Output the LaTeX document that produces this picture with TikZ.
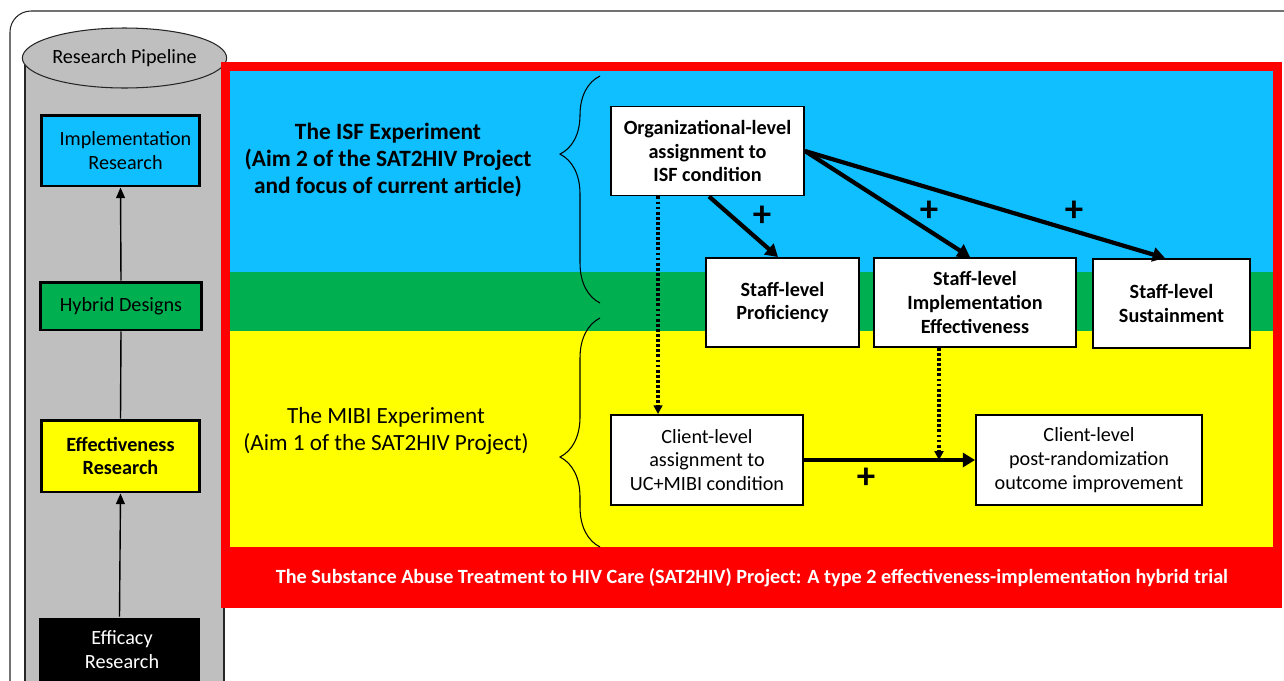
\documentclass[tikz,border=0pt]{standalone}
\usepackage{fontspec}
\setmainfont{Carlito}
\usepackage{xcolor}
\usetikzlibrary{shapes.geometric}
\usetikzlibrary{arrows.meta}
\usetikzlibrary{decorations.pathreplacing}

\definecolor{pipegray}{HTML}{BFBFBF}
\definecolor{isfblue}{HTML}{0FBFFF}
\definecolor{hybgreen}{HTML}{00B050}
\definecolor{mibiyellow}{HTML}{FFFF00}
\definecolor{projred}{HTML}{FF0000}

\tikzset{
  pipebox/.style={draw, line width=1.7pt, align=center, inner sep=0pt,
    font=\fontsize{11.5}{13.6}\selectfont},
  stage/.style={draw, fill=white, line width=1.1pt, align=center, inner sep=0pt,
    font=\fontsize{11.5}{13.6}\selectfont},
  effect/.style={line width=2.4pt, -{Triangle[length=7pt,width=8pt]}},
  moderate/.style={line width=1.8pt, dash pattern=on 1.6pt off 1.3pt,
    -{Triangle[length=5pt,width=5pt]}},
  plus/.style={font=\fontsize{21}{21}\selectfont\bfseries},
  curly/.style={decorate, line width=0.6pt}
}

\begin{document}
\begin{tikzpicture}[x=0.02cm, y=-0.02cm]
  \useasboundingbox (0,0) rectangle (1284,680);
  \clip (0,0) rectangle (1284,680);
  % frame
  \draw[black!85, line width=0.6pt, rounded corners=12pt] (10,11) rectangle (1320,720);

  % pipeline cylinder
  \fill[pipegray] (25,58) rectangle (224,700);
  \draw[black!85, line width=0.6pt] (25,58) -- (25,700) (224,58) -- (224,700);
  \node[draw=black!85, line width=0.6pt, fill=pipegray, ellipse, minimum width=3.98cm, minimum height=1.2cm,
    inner sep=0pt, font=\fontsize{11.5}{13.6}\selectfont] (pipe) at (124.5,58) {Research Pipeline};

  \node[pipebox, fill=isfblue, minimum width=3.18cm, minimum height=1.42cm] (impl) at (120.5,150.5)
    {\hspace*{0.2cm}Implementation\\\hspace*{0.2cm}Research};
  \node[pipebox, fill=hybgreen, minimum width=3.24cm, minimum height=0.96cm] (hybrid) at (121,306)
    {Hybrid Designs};
  \node[pipebox, fill=mibiyellow, minimum width=3.18cm, minimum height=1.44cm,
    font=\fontsize{11.5}{13.6}\selectfont\bfseries] (effres) at (120.5,456)
    {Effectiveness\\Research};
  \node[pipebox, draw=none, fill=black, text=white, minimum width=3.22cm, minimum height=1.28cm]
    (efficacy) at (119.5,650) {\hspace*{0.1cm}Efficacy\\\hspace*{0.1cm}Research};

  \draw[line width=0.8pt, -{Triangle[length=6pt,width=5pt]}] (efficacy.north) -- (effres.south);
  \draw[line width=0.8pt] (effres.north) -- (hybrid.south);
  \draw[line width=0.8pt, -{Triangle[length=6pt,width=5pt]}] (hybrid.north) -- (impl.south);

  % project frame and bands
  \fill[projred] (221,62) rectangle (1282,608);
  \fill[isfblue] (230,71) rectangle (1273,272);
  \fill[hybgreen] (230,272) rectangle (1273,331);
  \fill[mibiyellow] (230,331) rectangle (1273,547);

  \draw[curly, decoration={brace, amplitude=0.8cm, aspect=0.656}] (600,303) -- (600,76);
  \draw[curly, decoration={brace, amplitude=0.8cm, aspect=0.393}] (600,547) -- (600,318);

  \node[align=center, font=\fontsize{13.3}{15.4}\selectfont\bfseries] (isf) at (388,160)
    {The ISF Experiment\\(Aim 2 of the SAT2HIV Project\\and focus of current article)};
  \node[align=center, font=\fontsize{13.2}{15.4}\selectfont] (mibi) at (386,431)
    {The MIBI Experiment\\(Aim 1 of the SAT2HIV Project)};

  \node[text=white, font=\fontsize{11.5}{13.6}\selectfont\bfseries] (project) at (752,578)
    {The Substance Abuse Treatment to HIV Care (SAT2HIV) Project: A type 2 effectiveness-implementation hybrid trial};

  % ISF arm
  \node[stage, minimum width=3.86cm, minimum height=1.78cm, font=\fontsize{11.5}{13.6}\selectfont\bfseries]
    (org) at (707.5,151) {Organizational-level\\assignment to\\ISF condition};
  \node[stage, minimum width=3.06cm, minimum height=1.78cm, font=\fontsize{11.5}{13.6}\selectfont\bfseries]
    (prof) at (782.5,302.5) {Staff-level\\Proficiency};
  \node[stage, minimum width=4.04cm, minimum height=1.78cm, font=\fontsize{11.5}{13.6}\selectfont\bfseries]
    (impleff) at (975,302.5) {Staff-level\\Implementation\\Effectiveness};
  \node[stage, minimum width=3.14cm, minimum height=1.78cm, font=\fontsize{11.5}{13.6}\selectfont\bfseries]
    (sust) at (1171.5,303.5) {Staff-level\\Sustainment};

  % MIBI arm
  \node[stage, minimum width=3.84cm, minimum height=1.8cm] (client) at (707,460)
    {Client-level\\assignment to\\UC+MIBI condition};
  \node[stage, minimum width=4.52cm, minimum height=1.8cm] (outcome) at (1089,460)
    {Client-level\\post-randomization\\outcome improvement};

  \draw[effect] ([xshift=0.03cm]org.south) -- ([xshift=-0.09cm]prof.north);
  \draw[effect] (org.east) -- ([xshift=-0.1cm]impleff.north);
  \draw[effect] (org.east) -- ([xshift=-0.13cm]sust.north);
  \draw[effect] (client.east) -- (outcome.west);

  \coordinate (orgdrop) at ([xshift=-0.99cm]org.south);
  \coordinate (effdrop) at ([xshift=-0.72cm]impleff.south);
  \draw[moderate] (orgdrop) -- (orgdrop |- client.north);
  \draw[moderate] (effdrop) -- (effdrop |- client.east);

  \node[plus] (plusprof) at (762,216) {+};
  \node[plus] (plusimpl) at (929,211) {+};
  \node[plus] (plussust) at (1074,211) {+};
  \node[plus] (plusout) at (866,478) {+};
\end{tikzpicture}
\end{document}
